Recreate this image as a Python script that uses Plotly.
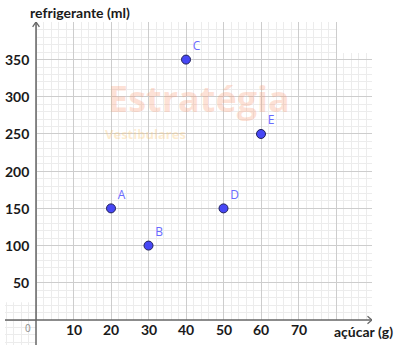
import plotly.graph_objects as go

# data
labels = ["A", "B", "C", "D", "E"]
acucar = [20, 30, 40, 50, 60]
refrigerante = [150, 100, 350, 150, 250]
x_ticks = [10, 20, 30, 40, 50, 60, 70]
y_ticks = [50, 100, 150, 200, 250, 300, 350]

X0, X1 = -8.27, 89.6
Y0, Y1 = -33.6, 400.5

fig = go.Figure()
fig.add_trace(go.Scatter(
    x=acucar, y=refrigerante, mode="markers+text", text=labels,
    textposition="top right",
    textfont=dict(family="Open Sans", size=12, color="#6a6aff"),
    marker=dict(size=9, color="#4747f5", line=dict(color="#20205a", width=1)),
    cliponaxis=False, hoverinfo="skip", showlegend=False,
))

shapes = [
    # blank areas of the grid (drawn between gridlines and traces)
    dict(type="rect", x0=X0, x1=0, y0=24, y1=Y1, fillcolor="white", line=dict(width=0), layer="between"),
    dict(type="rect", x0=0, x1=X1, y0=Y0, y1=0, fillcolor="white", line=dict(width=0), layer="between"),
    dict(type="rect", x0=80.3, x1=X1, y0=359, y1=Y1, fillcolor="white", line=dict(width=0), layer="between"),
    # axes
    dict(type="line", x0=0, x1=0, y0=Y0, y1=Y1, line=dict(color="#666666", width=1.5), layer="between"),
    dict(type="line", x0=X0, x1=X1, y0=0, y1=0, line=dict(color="#666666", width=1.5), layer="between"),
    # arrow heads
    dict(type="path", path=f"M {X1-1.2},{5} L {X1},{0} L {X1-1.2},{-5}",
         line=dict(color="#666666", width=1.3), layer="between"),
    dict(type="path", path=f"M {-0.9},{Y1-6.5} L 0,{Y1} L {0.9},{Y1-6.5}",
         line=dict(color="#666666", width=1.3), layer="between"),
]

W, H, L, R, T, B = 400, 355, 5, 28, 22, 10
pw, ph = W - L - R, H - T - B


def px(xp, yp):
    return (xp - L) / pw, 1 - (yp - T) / ph


ann = []
tick_font = dict(family="Lato", size=14, color="#1a1a1a")
for v in y_ticks:
    ann.append(dict(x=-1.3, y=v, xref="x", yref="y", text=f"<b>{v}</b>", showarrow=False,
                    xanchor="right", yanchor="middle", font=tick_font))
for v in x_ticks:
    ann.append(dict(x=v, y=-13.4, xref="x", yref="y", text=f"<b>{v}</b>", showarrow=False,
                    xanchor="center", yanchor="middle", font=tick_font))
ann.append(dict(x=-2.1, y=-11, xref="x", yref="y", text="0", showarrow=False,
                xanchor="center", yanchor="middle",
                font=dict(family="Open Sans", size=10, color="#8a8a8a")))

x, y = px(28, 12)
ann.append(dict(x=x, y=y, xref="paper", yref="paper", text="<b>refrigerante (ml)</b>",
                showarrow=False, xanchor="left", yanchor="middle", font=tick_font))
x, y = px(363, 331)
ann.append(dict(x=x, y=y, xref="paper", yref="paper", text="<b>açúcar (g)</b>", showarrow=False,
                xanchor="center", yanchor="middle", font=tick_font))
# watermark
x, y = px(199, 99)
ann.append(dict(x=x, y=y, xref="paper", yref="paper", text="<b>Estratégia</b>", showarrow=False,
                xanchor="center", yanchor="middle",
                font=dict(family="Open Sans", size=36, color="rgba(250,150,110,0.28)")))
x, y = px(103, 134)
ann.append(dict(x=x, y=y, xref="paper", yref="paper", text="<b>Vestibulares</b>", showarrow=False,
                xanchor="left", yanchor="middle",
                font=dict(family="Open Sans", size=13, color="rgba(250,200,120,0.35)")))

fig.update_layout(annotations=ann, shapes=shapes)

fig.update_layout(
    width=W, height=H, margin=dict(l=L, r=R, t=T, b=B),
    paper_bgcolor="white", plot_bgcolor="white",
    xaxis=dict(range=[X0, X1], dtick=10, tick0=0, showgrid=True, gridcolor="#cdcdcd", gridwidth=1,
               zeroline=False, showticklabels=False, ticks="", showline=False,
               minor=dict(dtick=2, tick0=0, showgrid=True, gridcolor="#ececec", gridwidth=1)),
    yaxis=dict(range=[Y0, Y1], dtick=50, tick0=0, showgrid=True, gridcolor="#cdcdcd", gridwidth=1,
               zeroline=False, showticklabels=False, ticks="", showline=False,
               minor=dict(dtick=10, tick0=0, showgrid=True, gridcolor="#ececec", gridwidth=1)),
)

fig.write_html("out.html")
